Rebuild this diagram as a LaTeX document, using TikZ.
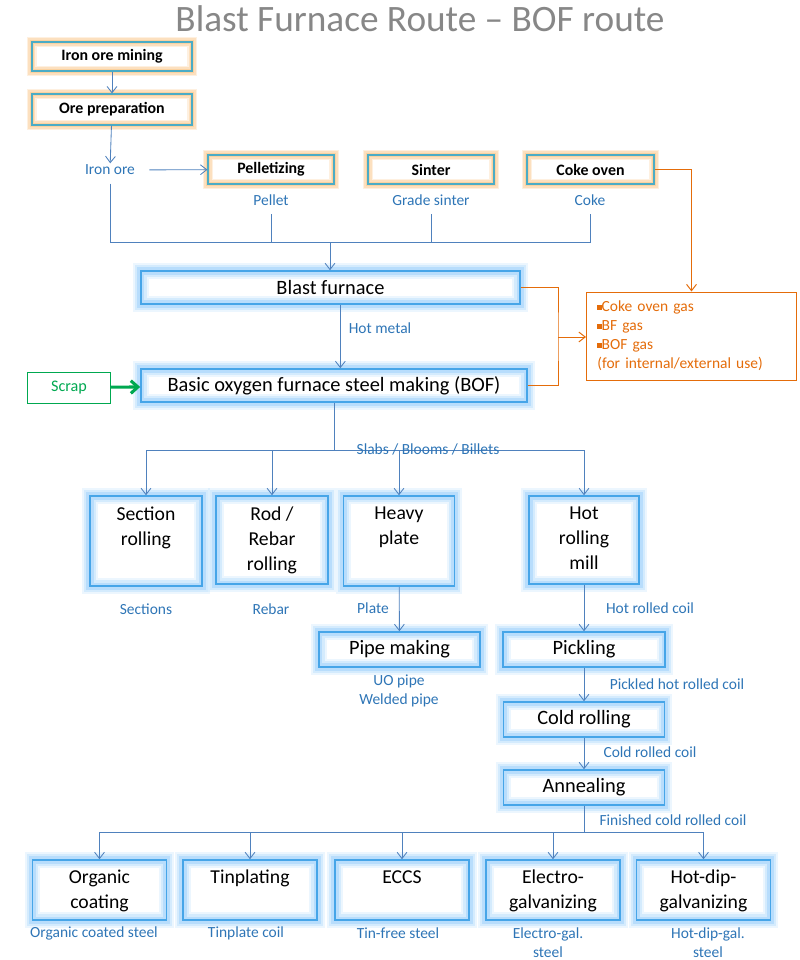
\documentclass[tikz,border=0pt]{standalone}
\usepackage{fontspec}
\setmainfont{Carlito}
\usetikzlibrary{arrows.meta}

\definecolor{flowblue}{RGB}{79,129,189}
\definecolor{labelblue}{RGB}{46,117,182}
\definecolor{edgeblue}{RGB}{70,165,232}
\definecolor{glowblue}{RGB}{150,205,250}
\definecolor{tealedge}{RGB}{75,172,198}
\definecolor{gloworange}{RGB}{250,195,130}
\definecolor{gasorange}{RGB}{228,108,10}
\definecolor{scrapgreen}{RGB}{0,168,80}
\definecolor{titlegray}{RGB}{135,135,135}

\newcommand{\gasbul}{\raisebox{1.5pt}{\rule{3pt}{3pt}}}

\tikzset{
  orebox/.style={draw=tealedge, line width=0.8pt, inner sep=0pt,
    preaction={draw=gloworange, line width=7pt, opacity=0.25},
    preaction={draw=gloworange, line width=5pt, opacity=0.35},
    preaction={draw=gloworange, line width=3pt, opacity=0.5},
    font=\bfseries\fontsize{11.3}{13}\selectfont},
  stagebox/.style={draw=edgeblue, line width=1.1pt, inner sep=0pt,
    preaction={draw=glowblue, line width=11pt, opacity=0.18},
    preaction={draw=glowblue, line width=8pt, opacity=0.28},
    preaction={draw=glowblue, line width=5pt, opacity=0.45},
    font=\fontsize{14.5}{17.7}\selectfont},
  stagetext/.style={align=center, inner sep=0pt, font=\fontsize{14}{17.7}\selectfont},
  flowlabel/.style={text=labelblue, inner sep=1pt, align=center,
    font=\fontsize{11}{13.5}\selectfont},
  flowline/.style={draw=flowblue, line width=0.6pt, -{Straight Barb[length=4.5pt,width=7pt]}},
  busline/.style={draw=flowblue, line width=0.6pt},
  gasline/.style={draw=gasorange, line width=0.7pt},
  gasbox/.style={draw=gasorange, line width=0.7pt, text=gasorange, align=left,
    text width=47mm, inner xsep=2.75mm, minimum height=22mm,
    font=\fontsize{11}{13.5}\selectfont},
  scrapbox/.style={draw=scrapgreen, line width=0.7pt, text=scrapgreen,
    minimum width=20.5mm, minimum height=7.75mm, font=\fontsize{11.5}{13}\selectfont},
}

\begin{document}
\begin{tikzpicture}[x=0.025cm,y=-0.025cm]
\useasboundingbox (0,0) rectangle (800,960);

\node[text=titlegray, font=\fontsize{26.5}{30}\selectfont] (title) at (420,19) {Blast Furnace Route – BOF route};

% raw material side
\node[orebox, minimum width=40mm, minimum height=7.25mm] (mine) at (112,56.5) {Iron ore mining};
\node[orebox, minimum width=40mm, minimum height=7.75mm] (prep) at (112,109.5) {Ore preparation};
\node[flowlabel] (ironore) at (110,170) {Iron ore};
\node[orebox, minimum width=31.5mm, minimum height=7.25mm] (pellet) at (271,169.5) {Pelletizing};
\node[orebox, minimum width=31.5mm, minimum height=7.25mm] (sinter) at (431,169.5) {Sinter};
\node[orebox, minimum width=31.75mm, minimum height=7.25mm] (coke) at (590.5,169.5) {Coke oven};
\node[flowlabel] (pelletout) at (271,200) {Pellet};
\node[flowlabel] (sinterout) at (431,200) {Grade sinter};
\node[flowlabel] (cokeout) at (590,200) {Coke};

\draw[flowline] (mine) -- (prep);
\draw[flowline] (prep) -- (ironore);
\draw[flowline, shorten <=9pt] (ironore) -- (pellet);

\coordinate (feedbus) at (330,242);
\draw[busline, shorten <=5pt] (ironore.south) |- (cokeout.south |- feedbus) -- ([yshift=-5pt]cokeout.south);
\draw[busline, shorten <=5pt] (pelletout.south) -- (pelletout.south |- feedbus);
\draw[busline, shorten <=5pt] (sinterout.south) -- (sinterout.south |- feedbus);

% iron and steel making
\node[stagebox, minimum width=94.75mm, minimum height=8.25mm] (blast) at (330.5,287.5) {Blast furnace};
\node[stagebox, minimum width=96.5mm, minimum height=8.25mm] (bof) at (334,385.5) {Basic oxygen furnace steel making (BOF)};
\node[scrapbox] (scrap) at (69,387.5) {Scrap};
\node[gasbox] (gas) at (691.5,336) {\gasbul Coke oven gas\\\gasbul BF gas\\\gasbul BOF gas\\(for internal/external use)};

\draw[flowline] (feedbus) -- (feedbus |- blast.north);
\draw[flowline] ([xshift=7pt]blast.south) -- ([xshift=7pt]blast.south |- bof.north);
\node[flowlabel] (hotmetal) at (380,328) {Hot metal};
\draw[draw=scrapgreen, line width=2.2pt, -{Straight Barb[length=5pt,width=9pt]}] (scrap) -- (bof);

\coordinate (gasjoin) at (558,337);
\draw[gasline, -{Straight Barb[length=4.5pt,width=7pt]}] (coke.east) -| (gas.north);
\draw[gasline] (blast.east) -| (gasjoin) |- (bof.east);
\draw[gasline, -{Straight Barb[length=4.5pt,width=7pt]}] (gasjoin) -- (gas.west |- gasjoin);

% rolling mills
\node[stagebox, minimum width=28mm, minimum height=22.5mm] (section) at (146,541) {};
\node[stagebox, minimum width=28mm, minimum height=22mm] (rebar) at (272,540) {};
\node[stagebox, minimum width=27.75mm, minimum height=22.5mm] (heavy) at (399,541) {};
\node[stagebox, minimum width=27.5mm, minimum height=22mm] (hotmill) at (584,540) {};
\node[stagetext, anchor=north] (sectiontxt) at (146,507) {Section\\rolling};
\node[stagetext, anchor=north] (rebartxt) at (272,507) {Rod /\\Rebar\\rolling};
\node[stagetext, anchor=north] (heavytxt) at (399,507) {Heavy\\plate};
\node[stagetext, anchor=north] (hotmilltxt) at (584,507) {Hot\\rolling\\mill};

\coordinate (slabbus) at (334,450);
\draw[busline] (bof.south) -- (slabbus);
\draw[busline] (section.north |- slabbus) -- (hotmill.north |- slabbus);
\draw[flowline] (section.north |- slabbus) -- (section.north);
\draw[flowline] (rebar.north |- slabbus) -- (rebar.north);
\draw[flowline] (heavy.north |- slabbus) -- (heavy.north);
\draw[flowline] (hotmill.north |- slabbus) -- (hotmill.north);
\node[flowlabel] (slabs) at (428,449) {Slabs / Blooms / Billets};

\node[flowlabel] (sectionout) at (146,609) {Sections};
\node[flowlabel] (rebarout) at (271,609) {Rebar};
\node[flowlabel] (plateout) at (373,608) {Plate};
\node[flowlabel] (hotcoil) at (650,608) {Hot rolled coil};

\node[stagebox, minimum width=40.25mm, minimum height=8.75mm] (pipe) at (399.5,649.5) {Pipe making};
\node[flowlabel] (pipeout) at (399,690.5) {UO pipe\\Welded pipe};
\draw[flowline] (heavy) -- (pipe);

% strip line
\node[stagebox, minimum width=40.5mm, minimum height=8.75mm] (pickling) at (584,649.5) {Pickling};
\node[stagebox, minimum width=40.25mm, minimum height=8.75mm] (coldroll) at (584,719.5) {Cold rolling};
\node[stagebox, minimum width=40.25mm, minimum height=8.75mm] (anneal) at (584,787.5) {Annealing};
\draw[flowline] (hotmill) -- (pickling);
\draw[flowline] (pickling) -- (coldroll);
\draw[flowline] (coldroll) -- (anneal);
\node[flowlabel] (pickledcoil) at (677,684) {Pickled hot rolled coil};
\node[flowlabel] (coldcoil) at (650,752) {Cold rolled coil};
\node[flowlabel] (finishedcoil) at (673,820) {Finished cold rolled coil};

% coating lines
\node[stagebox, minimum width=33.5mm, minimum height=15mm] (organic) at (99.5,890) {};
\node[stagebox, minimum width=33.5mm, minimum height=15mm] (tinplate) at (250,890) {};
\node[stagebox, minimum width=33.5mm, minimum height=15mm] (eccs) at (402,890) {};
\node[stagebox, minimum width=33.5mm, minimum height=15mm] (electro) at (553,890) {};
\node[stagebox, minimum width=33.5mm, minimum height=15mm] (hotdip) at (703.5,890) {};
\node[stagetext, anchor=north] (organictxt) at (99.5,870) {Organic\\coating};
\node[stagetext, anchor=north] (tinplatetxt) at (250,870) {Tinplating};
\node[stagetext, anchor=north] (eccstxt) at (402,870) {ECCS};
\node[stagetext, anchor=north] (electrotxt) at (553,870) {Electro-\\galvanizing};
\node[stagetext, anchor=north] (hotdiptxt) at (703.5,870) {Hot-dip-\\galvanizing};

\coordinate (coilbus) at (584,832);
\draw[busline] (anneal.south) -- (coilbus);
\draw[busline] (organic.north |- coilbus) -- (hotdip.north |- coilbus);
\draw[flowline] (organic.north |- coilbus) -- (organic.north);
\draw[flowline] (tinplate.north |- coilbus) -- (tinplate.north);
\draw[flowline] (eccs.north |- coilbus) -- (eccs.north);
\draw[flowline] (electro.north |- coilbus) -- (electro.north);
\draw[flowline] (hotdip.north |- coilbus) -- (hotdip.north);

\node[flowlabel] (organicout) at (94,933) {Organic coated steel};
\node[flowlabel] (tinplateout) at (246,933) {Tinplate coil};
\node[flowlabel] (eccsout) at (398,933) {Tin-free steel};
\node[flowlabel] (electroout) at (548,942.5) {Electro-gal.\\steel};
\node[flowlabel] (hotdipout) at (708,942.5) {Hot-dip-gal.\\steel};
\end{tikzpicture}
\end{document}
